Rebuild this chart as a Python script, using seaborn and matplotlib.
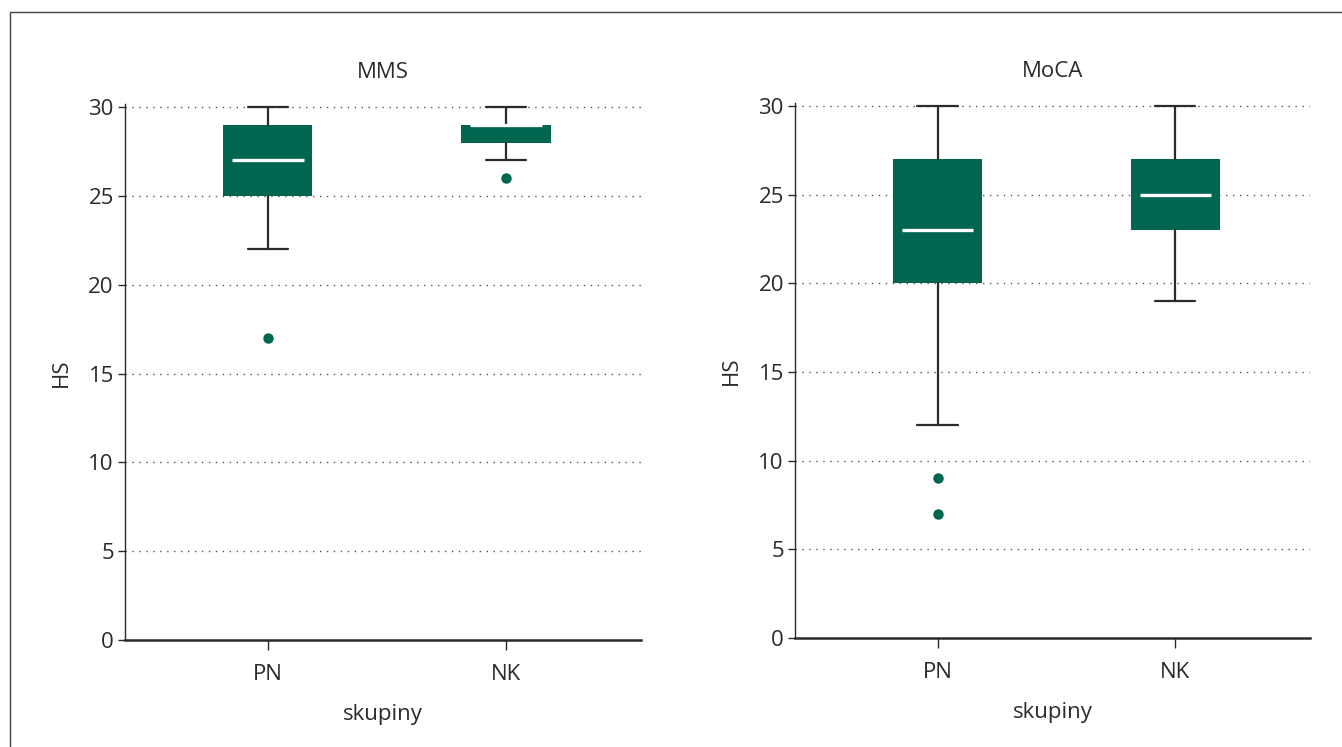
import numpy as np
import pandas as pd
import seaborn as sns
import matplotlib.pyplot as plt
from matplotlib.patches import Rectangle

# box statistics (HS = hrubé skóre)
groups = ["PN", "NK"]
panels = ["MMS", "MoCA"]

mms_whislo = [22, 27]
mms_q1 = [25, 28]
mms_med = [27, 29]
mms_q3 = [29, 29]
mms_whishi = [30, 30]
mms_out_group = ["PN", "NK"]
mms_out_value = [17, 26]

moca_whislo = [12, 19]
moca_q1 = [20, 23]
moca_med = [23, 25]
moca_q3 = [27, 27]
moca_whishi = [30, 30]
moca_out_group = ["PN", "PN"]
moca_out_value = [9, 7]

yticks = [0, 5, 10, 15, 20, 25, 30]

green = "#00664f"
ink = "#2b2b2b"

sns.set_theme(style="white")
plt.rcParams["font.family"] = ["Open Sans", "DejaVu Sans"]


def make_stats(whislo, q1, med, q3, whishi):
    return [
        dict(whislo=a, q1=b, med=c, q3=d, whishi=e, fliers=[], label=g)
        for a, b, c, d, e, g in zip(whislo, q1, med, q3, whishi, groups)
    ]


data = {
    "MMS": (make_stats(mms_whislo, mms_q1, mms_med, mms_q3, mms_whishi),
            pd.DataFrame({"skupiny": mms_out_group, "HS": mms_out_value})),
    "MoCA": (make_stats(moca_whislo, moca_q1, moca_med, moca_q3, moca_whishi),
             pd.DataFrame({"skupiny": moca_out_group, "HS": moca_out_value})),
}

fig = plt.figure(figsize=(13.42, 7.47), dpi=100)
rects = {"MMS": [0.0931, 0.1432, 0.3845, 0.7171],
         "MoCA": [0.5924, 0.1459, 0.3838, 0.7158]}

for name in panels:
    ax = fig.add_axes(rects[name])
    stats, outliers = data[name]

    # dotted grid first so boxes sit on top
    for y in yticks[1:]:
        ax.axhline(y, color="#555555", lw=1.0, ls=(0, (1, 4)), zorder=0)

    ax.bxp(stats, positions=[0, 1], widths=0.375, patch_artist=True,
           showfliers=False,
           boxprops=dict(facecolor=green, edgecolor=green, linewidth=0),
           whiskerprops=dict(color=ink, linewidth=1.6),
           capprops=dict(color=ink, linewidth=1.6),
           medianprops=dict(linewidth=0),
           capwidths=0.17, zorder=2)
    ax.hlines([s["med"] for s in stats], np.arange(2) - 0.15, np.arange(2) + 0.15,
              color="white", lw=2.4, zorder=3)

    sns.stripplot(data=outliers, x="skupiny", y="HS", order=groups, jitter=False,
                  color=green, size=7.5, linewidth=0, ax=ax, zorder=4)

    ax.set_xlim(-0.60, 1.567)
    ax.set_ylim(0, 30.15)
    ax.set_yticks(yticks)
    ax.set_xticks([0, 1])
    ax.set_xticklabels(groups)
    ax.set_title(name, fontsize=16, color=ink, pad=19)
    ax.set_xlabel("skupiny", fontsize=16, color=ink, labelpad=14)
    ax.set_ylabel("HS", fontsize=16, color=ink, labelpad=12)
    ax.tick_params(axis="y", direction="out", length=5, width=1, colors=ink,
                   labelsize=16, pad=3, left=True)
    ax.tick_params(axis="x", direction="out", length=7, width=1, colors=ink,
                   labelsize=16, pad=10, bottom=True)
    sns.despine(ax=ax)
    ax.spines["left"].set_color(ink)
    ax.spines["left"].set_linewidth(1.0)
    ax.spines["bottom"].set_color(ink)
    ax.spines["bottom"].set_linewidth(1.8)

# frame around the figure (cut off at the right and bottom)
fig.add_artist(Rectangle((0.0075, -0.1), 1.2, 0.984 + 0.1, fill=False,
                         edgecolor="#444444", lw=1.0, transform=fig.transFigure))

fig.savefig("out.png", dpi=100)
